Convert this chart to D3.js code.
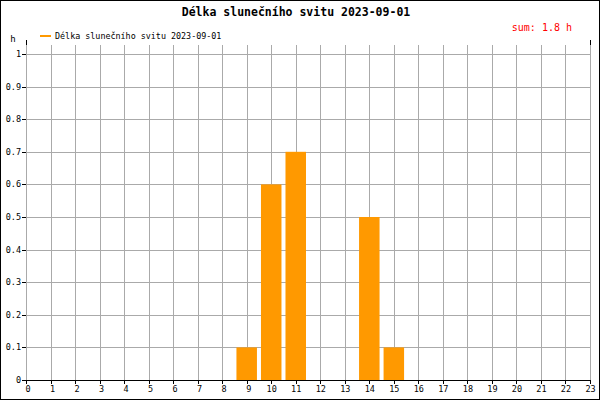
<!DOCTYPE html>
<html><head><meta charset="utf-8">
<script src="https://cdn.jsdelivr.net/npm/d3@7"></script>
<style>body{margin:0;background:#fff}svg{display:block}text{font-family:"DejaVu Sans Mono",monospace}</style>
</head><body>
<script>
const title = "Délka slunečního svitu 2023-09-01";
const legendLabel = "Délka slunečního svitu 2023-09-01";
const sumLabel = "sum: 1.8 h";
const unitLabel = "h";
const hours = d3.range(0, 24);
const values = [0,0,0,0,0,0,0,0,0,0.1,0.6,0.7,0,0,0.5,0.1,0,0,0,0,0,0,0,0];
const yTicks = [0,0.1,0.2,0.3,0.4,0.5,0.6,0.7,0.8,0.9,1];

const W = 600, H = 400;
const svg = d3.select("body").append("svg").attr("width", W).attr("height", H);
svg.append("rect").attr("x",0.5).attr("y",0.5).attr("width",W-1).attr("height",H-1)
  .attr("fill","#fff").attr("stroke","#000");

const x = d3.scaleLinear().domain([0,23]).range([26,590]);
const y = d3.scaleLinear().domain([0,1]).range([380,54]);

// grid
const g = svg.append("g");
g.selectAll("line.v").data(hours).join("line")
  .attr("x1", d=>Math.round(x(d))+0.5).attr("x2", d=>Math.round(x(d))+0.5)
  .attr("y1", 45).attr("y2", 380).attr("stroke","#aaa");
g.selectAll("line.h").data(yTicks.slice(1)).join("line")
  .attr("x1", 26).attr("x2", 590.5)
  .attr("y1", d=>Math.round(y(d))+0.5).attr("y2", d=>Math.round(y(d))+0.5).attr("stroke","#aaa");

// bars
const bw = 20.5;
svg.selectAll("rect.bar").data(hours.filter(h=>values[h]>0)).join("rect")
  .attr("x", d=>x(d)-bw/2).attr("width", bw)
  .attr("y", d=>y(values[d])).attr("height", d=>y(0)-y(values[d]))
  .attr("fill","#ff9900");

// top stubs
svg.append("line").attr("x1",26.5).attr("x2",26.5).attr("y1",40).attr("y2",45).attr("stroke","#000");
svg.append("line").attr("x1",590.5).attr("x2",590.5).attr("y1",40).attr("y2",45).attr("stroke","#000");

// x axis
svg.append("line").attr("x1",26).attr("x2",591).attr("y1",380.5).attr("y2",380.5).attr("stroke","#000");
svg.selectAll("line.xt").data(hours).join("line")
  .attr("x1", d=>Math.round(x(d))+0.5).attr("x2", d=>Math.round(x(d))+0.5)
  .attr("y1",380).attr("y2",384).attr("stroke","#000");
svg.selectAll("text.xl").data(hours).join("text")
  .attr("x", d=>x(d)+(d<10?2:0.5)).attr("y",392).attr("text-anchor","middle")
  .attr("font-size","8.5px").attr("fill","#000").text(d=>d);

// y ticks
svg.selectAll("line.yt").data(yTicks).join("line")
  .attr("x1",22).attr("x2",26).attr("y1", d=>Math.round(y(d))+0.5).attr("y2", d=>Math.round(y(d))+0.5)
  .attr("stroke","#000");
svg.selectAll("text.yl").data(yTicks).join("text")
  .attr("x",21).attr("y", d=>y(d)+3).attr("text-anchor","end")
  .attr("font-size","8.5px").attr("fill","#000").text(d=>d);

// labels
svg.append("text").attr("x",296).attr("y",16).attr("text-anchor","middle")
  .attr("font-size","11.5px").attr("font-weight","bold").text(title);
svg.append("text").attr("x",13).attr("y",42).attr("text-anchor","middle")
  .attr("font-size","9px").text(unitLabel);
svg.append("line").attr("x1",40).attr("x2",51).attr("y1",36).attr("y2",36)
  .attr("stroke","#ff9900").attr("stroke-width",2);
svg.append("text").attr("x",55).attr("y",39).attr("font-size","8.4px").text(legendLabel);
svg.append("text").attr("x",572).attr("y",31).attr("text-anchor","end")
  .attr("font-size","10px").attr("fill","#ff0000").text(sumLabel);
</script>
</body></html>
